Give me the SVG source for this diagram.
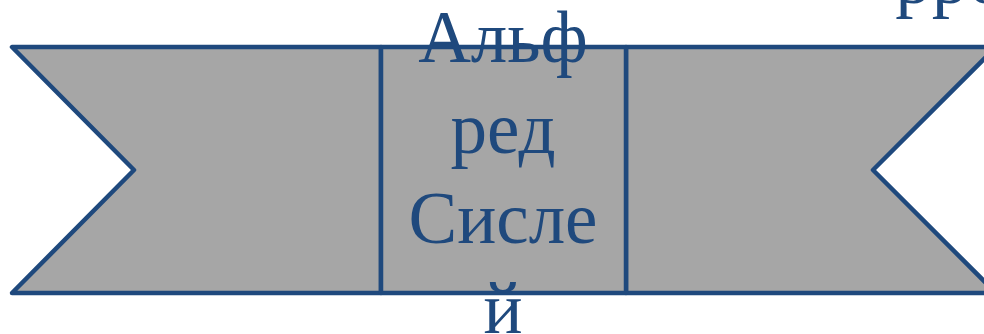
<svg xmlns="http://www.w3.org/2000/svg" width="984" height="334" viewBox="0 0 984 334">
  <style>
    .shape { fill: #A6A6A6; stroke: #1F497D; stroke-width: 4.5; stroke-linejoin: round; }
    .label { font-family: "Liberation Serif", "Times New Roman", serif; font-size: 73px; fill: #1F497D; text-anchor: middle; }
  </style>
  <rect x="0" y="0" width="984" height="334" fill="#FFFFFF"/>
  <g id="ribbon-left">
    <polygon class="shape" points="12,47 381,47 381,293 12,293 134,170"/>
  </g>
  <g id="ribbon-right">
    <polygon class="shape" points="626,47 996,47 873,170 996,293 626,293"/>
  </g>
  <g id="node-center">
    <rect class="shape" x="381" y="47" width="245" height="246"/>
    <text class="label" x="503" y="62">Альф</text>
    <text class="label" x="503" y="153">ред</text>
    <text class="label" x="503" y="243">Сисле</text>
    <text class="label" x="503" y="333">й</text>
  </g>
  <g id="node-neighbor">
    <text class="label" x="950" y="3">рро</text>
  </g>
  <g id="connectors"></g>
</svg>
